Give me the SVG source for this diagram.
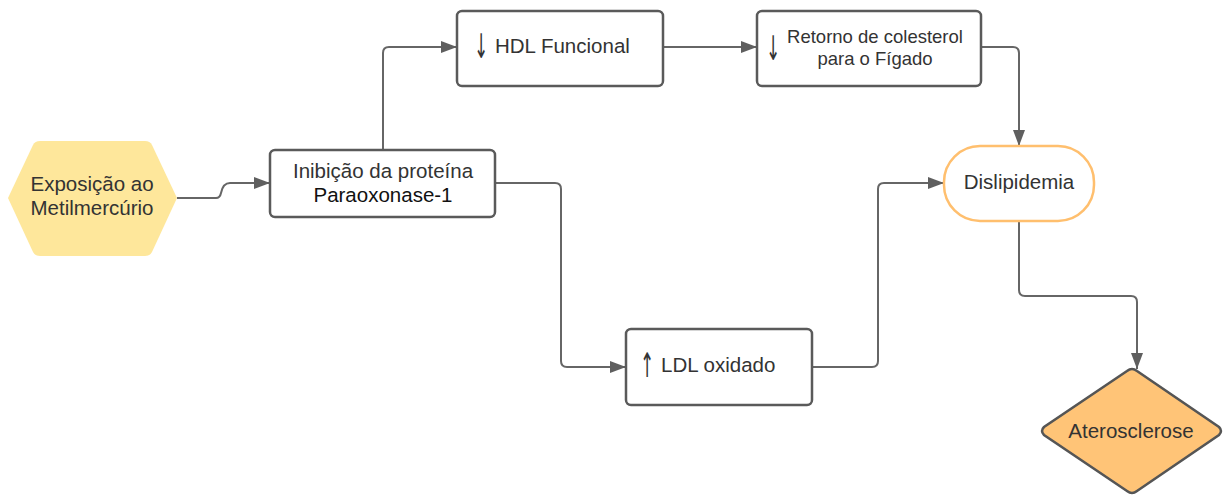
<svg xmlns="http://www.w3.org/2000/svg" width="1224" height="495" viewBox="0 0 1224 495">
<style>
.box{fill:#ffffff;stroke:#5a5a5a;stroke-width:2.5}
.t{font-family:"Liberation Sans",Arial,sans-serif;fill:#333333;text-anchor:middle;font-size:20.5px}
.s{text-anchor:start}
.ar{font-family:"DejaVu Sans",sans-serif;fill:#333333;text-anchor:middle;font-size:26px}
.c{fill:none;stroke:#666666;stroke-width:2}
</style>
<defs>
<marker id="ah" viewBox="0 0 16 12" refX="16" refY="6" markerWidth="16" markerHeight="12" markerUnits="userSpaceOnUse" orient="auto">
<path d="M0,0 L16,6 L0,12 Z" fill="#5f5f5f"/>
</marker>
</defs>
<rect width="1224" height="495" fill="#ffffff"/>
<g id="connectors">
<path class="c" marker-end="url(#ah)" d="M177,198 L216,198 Q220,198 221,193 Q223,183 230,183 L270,183"/>
<path class="c" marker-end="url(#ah)" d="M383,150 L383,53 Q383,47 389,47 L457,47"/>
<path class="c" marker-end="url(#ah)" d="M663,47 L757,47"/>
<path class="c" marker-end="url(#ah)" d="M981,47 L1013,47 Q1019,47 1019,53 L1019,146"/>
<path class="c" marker-end="url(#ah)" d="M495,183 L555,183 Q561,183 561,189 L561,361 Q561,367 567,367 L626,367"/>
<path class="c" marker-end="url(#ah)" d="M812,367 L872,367 Q878,367 878,361 L878,189 Q878,183 884,183 L944,183"/>
<path class="c" marker-end="url(#ah)" d="M1019,221 L1019,290 Q1019,296 1025,296 L1131,296 Q1137,296 1137,302 L1137,369"/>
</g>
<g id="exposicao">
<path d="M8,198 L33,145 Q35,141 40,141 L145,141 Q150,141 152,145 L177,198 L152,252 Q150,256 145,256 L40,256 Q35,256 33,252 Z" fill="#fee79b"/>
<text class="t" x="92" y="191">Exposição ao</text>
<text class="t" x="92" y="215">Metilmercúrio</text>
</g>
<g id="inibicao">
<rect class="box" x="270" y="150" width="225" height="67" rx="5"/>
<text class="t" x="383" y="178">Inibição da proteína</text>
<text class="t" x="383" y="202" style="fill:#111111">Paraoxonase-1</text>
</g>
<g id="hdl">
<rect class="box" x="457" y="11" width="206" height="75" rx="5"/>
<text class="ar" transform="translate(481,58) scale(0.65,1.3)">↓</text>
<text class="t s" x="495" y="53">HDL Funcional</text>
</g>
<g id="retorno">
<rect class="box" x="757" y="11" width="224" height="75" rx="5"/>
<text class="ar" transform="translate(773,60) scale(0.65,1.3)">↓</text>
<text class="t" x="875" y="43" style="font-size:18.5px">Retorno de colesterol</text>
<text class="t" x="875" y="65" style="font-size:18.5px">para o Fígado</text>
</g>
<g id="dislipidemia">
<rect x="944" y="146" width="150" height="75" rx="36" fill="#ffffff" stroke="#ffbf6e" stroke-width="2.5"/>
<text class="t" x="1019" y="189">Dislipidemia</text>
</g>
<g id="ldl">
<rect class="box" x="626" y="329" width="186" height="76" rx="5"/>
<text class="ar" transform="translate(647,377) scale(0.65,1.3)">↑</text>
<text class="t s" x="661" y="372">LDL oxidado</text>
</g>
<g id="aterosclerose">
<path d="M1127,371 Q1132,367 1137,371 L1219,427 Q1223,431 1219,435 L1137,491 Q1132,495 1127,491 L1044,435 Q1040,431 1044,427 Z" fill="#ffc477" stroke="#555555" stroke-width="2.5"/>
<text class="t" x="1131" y="438">Aterosclerose</text>
</g>
</svg>
